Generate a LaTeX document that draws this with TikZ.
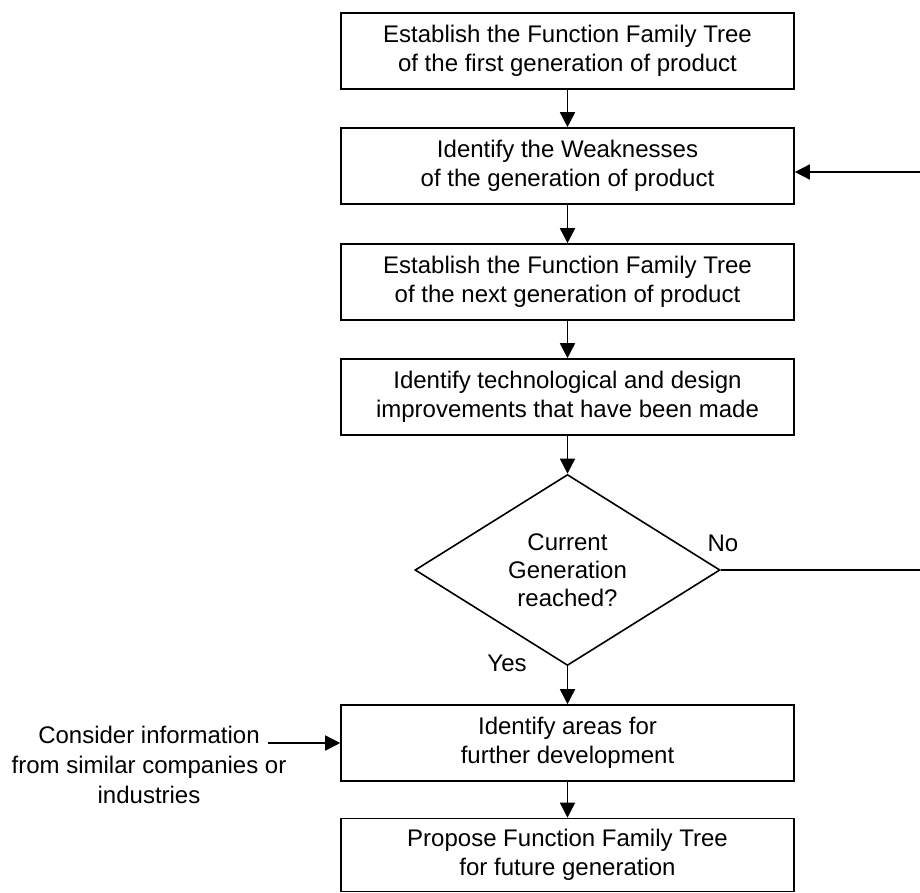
\documentclass[tikz,border=0pt]{standalone}
\usepackage{fontspec}
\setmainfont{Liberation Sans}
\usetikzlibrary{shapes.geometric,arrows.meta}
\begin{document}
\begin{tikzpicture}[x=1pt,y=-1pt,
  every node/.style={font=\fontsize{24}{29}\selectfont},
  procbox/.style={draw, line width=1.6pt, minimum width=453pt, minimum height=76pt, inner sep=0pt, align=center},
  decision/.style={draw, diamond, line width=1.6pt, minimum width=305pt, minimum height=191pt, inner sep=0pt},
  conn/.style={line width=1.6pt, -{Triangle[length=15pt,width=15pt]}},
  plain/.style={line width=1.6pt}]
\useasboundingbox (0,0) rectangle (920,893);
\clip (0,0) rectangle (920,893);
\node[procbox] (b1) at (567.5,51) {Establish the Function Family Tree\\of the first generation of product};
\node[procbox] (b2) at (567.5,166) {Identify the Weaknesses\\of the generation of product};
\node[procbox] (b3) at (567.5,282) {Establish the Function Family Tree\\of the next generation of product};
\node[procbox] (b4) at (567.5,397) {Identify technological and design\\improvements that have been made};
\node[decision] (d) at (567.5,570) {};
\node[align=center, font=\fontsize{24}{28}\selectfont] (dt) at (d.center) {Current\\Generation\\reached?};
\node[procbox] (b5) at (567.5,743) {Identify areas for\\further development};
\node[procbox, minimum height=73pt] (b6) at (567.5,855) {Propose Function Family Tree\\for future generation};
\node[align=center, font=\fontsize{24}{30}\selectfont] (info) at (149,765) {Consider information\\from similar companies or\\industries};
\node (no) at (723,543) {No};
\node (yes) at (507,663) {Yes};
\coordinate (infoend) at (268,743);
\coordinate (fbtop) at (930,172);
\coordinate (fbbot) at (930,570);
\draw[conn] (b1) -- (b2);
\draw[conn] (b2) -- (b3);
\draw[conn] (b3) -- (b4);
\draw[conn] (b4) -- (d.north);
\draw[conn] (d.south) -- (b5);
\draw[conn] (b5) -- (b6);
\draw[conn] (infoend) -- (b5.west);
\draw[conn] (d.east) -- (fbbot) -- (fbtop) -- (b2.east |- fbtop);
\end{tikzpicture}
\end{document}
